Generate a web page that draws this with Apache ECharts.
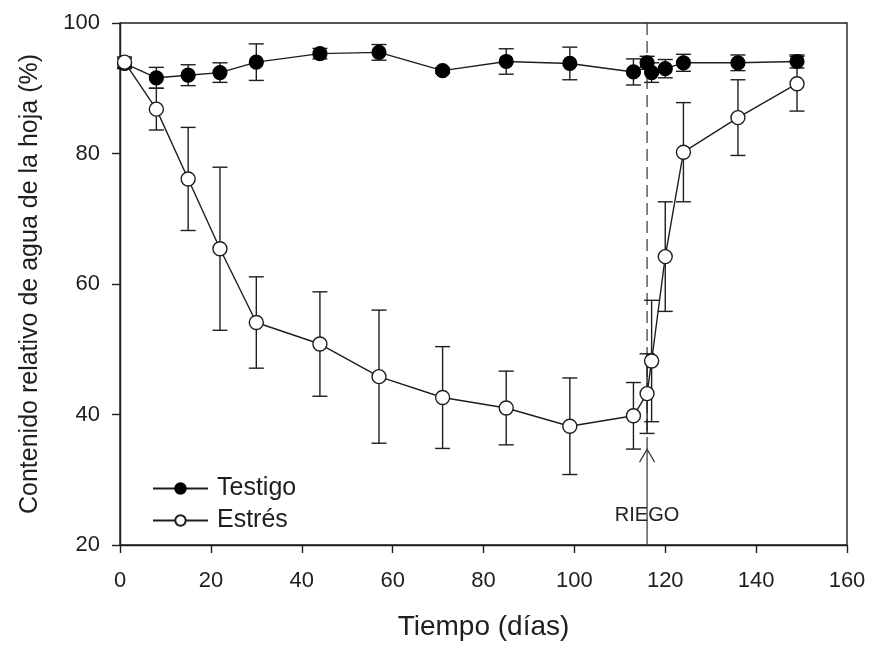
<!DOCTYPE html>
<html>
<head>
<meta charset="utf-8">
<script src="https://cdn.jsdelivr.net/npm/echarts@6/dist/echarts.min.js"></script>
<style>
html,body{margin:0;padding:0;background:#fff;}
#c{width:870px;height:646px;}
</style>
</head>
<body>
<div id="c"></div>
<script>
// ---- data ----
const days = [1, 8, 15, 22, 30, 44, 57, 71, 85, 99, 113, 116, 117, 120, 124, 136, 149];
const testigo    = [93.8, 91.6, 92.0, 92.4, 94.0, 95.3, 95.5, 92.7, 94.1, 93.8, 92.5, 93.9, 92.4, 93.0, 93.9, 93.9, 94.1];
const testigoErr = [0.8, 1.6, 1.6, 1.5, 2.8, 0.8, 1.2, 0.4, 1.95, 2.5, 2.0, 1.0, 1.5, 1.4, 1.3, 1.2, 1.0];
const estres     = [94.0, 86.8, 76.1, 65.4, 54.1, 50.8, 45.8, 42.6, 41.0, 38.2, 39.8, 43.2, 48.2, 64.2, 80.2, 85.5, 90.7];
const estresErr  = [0.8, 3.2, 7.9, 12.5, 7.0, 8.0, 10.2, 7.8, 5.65, 7.4, 5.1, 6.1, 9.3, 8.4, 7.6, 5.8, 4.2];
const xTicks = [0, 20, 40, 60, 80, 100, 120, 140, 160];
const yTicks = [20, 40, 60, 80, 100];
const seriesNames = ['Testigo', 'Estrés'];
const riegoDay = 116;
const riegoArrowTip = 34.7;
const riegoLabelY = 24.6;
const riegoLabel = 'RIEGO';

// ---- build ----
const FONT = 'Liberation Sans, Arial, sans-serif';
const INK = '#1e1e1e';

function pairs(ys) { return days.map((d, i) => [d, ys[i]]); }
function errData(ys, es) { return days.map((d, i) => [d, ys[i] - es[i], ys[i] + es[i]]); }

function errRender(params, api) {
  const x = api.value(0), lo = api.value(1), hi = api.value(2);
  const a = api.coord([x, hi]), b = api.coord([x, lo]);
  const w = 7.5;
  const st = { stroke: INK, lineWidth: 1.4 };
  return {
    type: 'group',
    children: [
      { type: 'line', shape: { x1: a[0], y1: a[1], x2: b[0], y2: b[1] }, style: st },
      { type: 'line', shape: { x1: a[0] - w, y1: a[1], x2: a[0] + w, y2: a[1] }, style: st },
      { type: 'line', shape: { x1: b[0] - w, y1: b[1], x2: b[0] + w, y2: b[1] }, style: st }
    ]
  };
}

function riegoRender(params, api) {
  const top = api.coord([riegoDay, 100]);
  const bot = api.coord([riegoDay, 20]);
  const s1 = api.coord([riegoDay, riegoArrowTip]);
  const lab = api.coord([riegoDay, riegoLabelY]);
  const st = { stroke: '#333', lineWidth: 1.2 };
  return {
    type: 'group',
    children: [
      { type: 'line', shape: { x1: top[0], y1: top[1], x2: s1[0], y2: s1[1] }, style: { stroke: '#333', lineWidth: 1.2, lineDash: [12, 6] } },
      { type: 'line', shape: { x1: bot[0], y1: bot[1], x2: s1[0], y2: s1[1] }, style: st },
      { type: 'polyline', shape: { points: [[s1[0] - 7.5, s1[1] + 13], [s1[0], s1[1]], [s1[0] + 7.5, s1[1] + 13]] }, style: { stroke: '#333', lineWidth: 1.2, fill: null } },
      { type: 'text', x: lab[0], y: lab[1], style: { text: riegoLabel, fill: '#222', font: '20px ' + FONT, align: 'center', verticalAlign: 'middle' } }
    ]
  };
}

const chart = echarts.init(document.getElementById('c'), null, { renderer: 'canvas' });
chart.setOption({
  animation: false,
  backgroundColor: '#fff',
  grid: { left: 120, right: 23, top: 23, bottom: 98, show: true, borderColor: INK, borderWidth: 1.4, backgroundColor: 'transparent' },
  legend: {
    data: seriesNames,
    orient: 'vertical',
    left: 147, top: 471,
    itemWidth: 55, itemHeight: 13,
    itemGap: 7,
    textStyle: { fontFamily: FONT, fontSize: 25, color: INK, padding: [0, 0, 0, 4] }
  },
  xAxis: {
    type: 'value', min: xTicks[0], max: xTicks[xTicks.length - 1], interval: xTicks[1] - xTicks[0],
    name: 'Tiempo (días)', nameLocation: 'middle', nameGap: 68,
    nameTextStyle: { fontFamily: FONT, fontSize: 28, color: INK },
    axisLine: { show: true, lineStyle: { color: INK, width: 1.4 } },
    axisTick: { show: true, inside: false, length: 8, lineStyle: { color: INK, width: 1.4 } },
    axisLabel: { fontFamily: FONT, fontSize: 22, color: INK, margin: 25 },
    splitLine: { show: false }
  },
  yAxis: {
    type: 'value', min: yTicks[0], max: yTicks[yTicks.length - 1], interval: yTicks[1] - yTicks[0],
    name: 'Contenido relativo de agua de la hoja (%)', nameLocation: 'middle', nameGap: 77,
    nameTextStyle: { fontFamily: FONT, fontSize: 25, color: INK },
    axisLine: { show: true, lineStyle: { color: INK, width: 1.4 } },
    axisTick: { show: true, inside: false, length: 8, lineStyle: { color: INK, width: 1.4 } },
    axisLabel: { fontFamily: FONT, fontSize: 22, color: INK, margin: 20 },
    splitLine: { show: false }
  },
  series: [
    { type: 'custom', renderItem: riegoRender, data: [[riegoDay, 60]], silent: true, z: 1, clip: false },
    { type: 'custom', renderItem: errRender, data: errData(testigo, testigoErr), z: 2, silent: true },
    { type: 'custom', renderItem: errRender, data: errData(estres, estresErr), z: 2, silent: true },
    {
      name: seriesNames[0], type: 'line', data: pairs(testigo), z: 3,
      symbol: 'circle', symbolSize: 14, showAllSymbol: true,
      lineStyle: { color: INK, width: 1.4 },
      itemStyle: { color: '#000', borderColor: '#000', borderWidth: 1.2 }
    },
    {
      name: seriesNames[1], type: 'line', data: pairs(estres), z: 4,
      symbol: 'circle', symbolSize: 14, showAllSymbol: true,
      lineStyle: { color: INK, width: 1.4 },
      itemStyle: { color: '#fff', borderColor: INK, borderWidth: 1.4 }
    }
  ]
});
</script>
</body>
</html>
